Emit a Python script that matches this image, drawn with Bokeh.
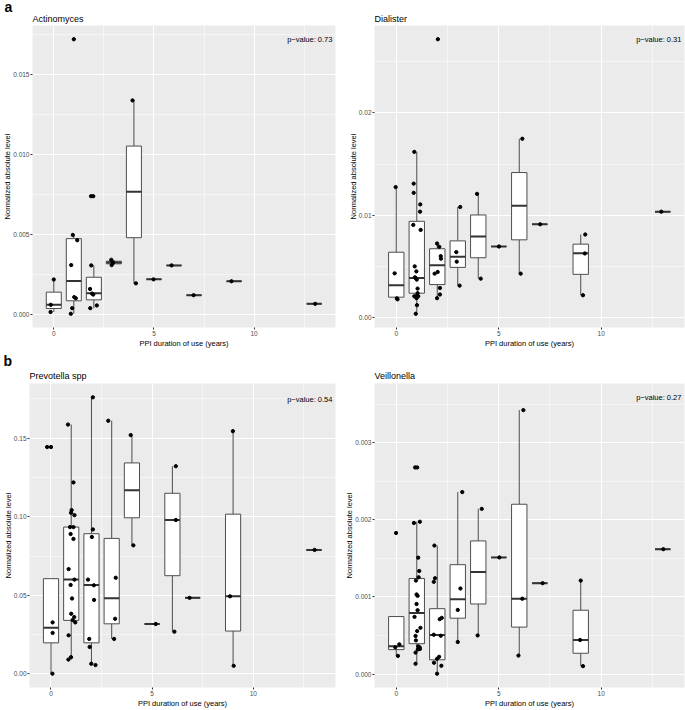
from bokeh.plotting import figure
from bokeh.models import Range1d, FixedTicker, Title
from bokeh.layouts import row, column
from bokeh.embed import file_html
from bokeh.resources import INLINE
from bokeh.core.properties import value

FONT = "Liberation Sans"

# ---------------- data ----------------
groups = [0, 1, 2, 3, 4, 5, 6, 7, 9, 13]
x_ticks = [0, 5, 10]
x_tick_labels = ["0", "5", "10"]
x_minor = [2.5, 7.5, 12.5]

panel_names = ["Actinomyces", "Dialister", "Prevotella spp", "Veillonella"]
panel_tags = ["a", "", "b", ""]
p_values = ["0.73", "0.31", "0.54", "0.27"]
p_value_y = [0.0172, 0.0272, 0.1745, 0.00359]

# Actinomyces
act_q1 = [0.00039, 0.00087, 0.00093, 0.00318, 0.00481, 0.00221, 0.00308, 0.00122, 0.00209, 0.00068]
act_med = [0.00062, 0.0021, 0.00134, 0.00326, 0.00768, 0.00221, 0.00308, 0.00122, 0.00209, 0.00068]
act_q3 = [0.00141, 0.00475, 0.00234, 0.00334, 0.01053, 0.00221, 0.00308, 0.00122, 0.00209, 0.00068]
act_lo = [0.00017, 0.00006, 0.00041, 0.0031, 0.00196, 0.00221, 0.00308, 0.00122, 0.00209, 0.00068]
act_hi = [0.0022, 0.00498, 0.00308, 0.00343, 0.01338, 0.00221, 0.00308, 0.00122, 0.00209, 0.00068]
act_px = [0.0, -0.15, -0.16,
          1.0, 0.95, 1.17, 0.87, 1.02, 1.10, 0.92, 0.85,
          1.86, 1.97, 1.87, 1.81, 1.91, 1.97, 2.15, 1.82,
          2.87, 2.96, 2.89,
          3.93, 4.10,
          4.98, 5.88, 6.98, 8.87, 13.05]
act_py = [0.0022, 0.00062, 0.00017,
          0.0172, 0.00498, 0.00465, 0.0031, 0.0011, 0.00103, 0.00041, 0.00006,
          0.0074, 0.0074, 0.00308, 0.00161, 0.00132, 0.00126, 0.00058, 0.00041,
          0.00343, 0.00326, 0.0031,
          0.01338, 0.00196,
          0.00221, 0.00308, 0.00122, 0.00209, 0.00068]
act_yticks = [0.0, 0.005, 0.01, 0.015]
act_ylabels = ["0.000", "0.005", "0.010", "0.015"]
act_yminor = [0.0025, 0.0075, 0.0125, 0.0175]

# Dialister
dia_q1 = [0.00201, 0.0024, 0.00324, 0.00492, 0.00586, 0.00696, 0.00761, 0.00913, 0.00424, 0.01036]
dia_med = [0.00317, 0.00388, 0.00512, 0.00596, 0.00793, 0.00696, 0.01094, 0.00913, 0.00631, 0.01036]
dia_q3 = [0.0064, 0.00942, 0.00674, 0.00751, 0.01004, 0.00696, 0.01418, 0.00913, 0.00719, 0.01036]
dia_lo = [0.0018, 0.00039, 0.00191, 0.00314, 0.00382, 0.00696, 0.00431, 0.00913, 0.0022, 0.01036]
dia_hi = [0.01276, 0.0162, 0.00725, 0.01082, 0.0121, 0.00696, 0.01748, 0.00913, 0.00813, 0.01036]
dia_px = [-0.03, -0.08, 0.03, 0.06,
          0.88, 0.85, 0.85, 1.17, 1.16, 0.83, 1.19, 0.90, 0.98, 0.91, 0.96, 1.00, 1.04, 1.04,
          0.88, 0.98, 1.07, 0.99, 1.01, 0.95,
          2.03, 1.99, 2.10, 2.17, 2.18, 2.02, 1.87, 2.13, 2.13, 1.99,
          3.12, 2.93, 2.95, 3.09,
          3.94, 4.12,
          5.01,
          6.15, 6.07,
          7.02,
          9.22, 9.20, 9.11,
          12.93]
dia_py = [0.01276, 0.00434, 0.0019, 0.0018,
          0.0162, 0.0131, 0.0122, 0.01107, 0.01036, 0.00907, 0.00858, 0.00502, 0.00453, 0.00395, 0.00385, 0.00373, 0.00285, 0.0024,
          0.0021, 0.0021, 0.0021, 0.00191, 0.00123, 0.00039,
          0.0272, 0.00725, 0.00693, 0.00602, 0.00577, 0.00447, 0.00431, 0.00291, 0.00227, 0.00191,
          0.01082, 0.00641, 0.00548, 0.00314,
          0.0121, 0.00382,
          0.00696,
          0.01748, 0.00431,
          0.00913,
          0.00813, 0.00628, 0.0022,
          0.01036]
dia_yticks = [0.0, 0.01, 0.02]
dia_ylabels = ["0.00", "0.01", "0.02"]
dia_yminor = [0.005, 0.015, 0.025]

# Prevotella spp
pre_q1 = [0.0198, 0.0341, 0.0198, 0.0319, 0.0993, 0.0318, 0.0625, 0.0484, 0.0273, 0.0789]
pre_med = [0.0294, 0.06, 0.0566, 0.0482, 0.1168, 0.0318, 0.0979, 0.0484, 0.0494, 0.0789]
pre_q3 = [0.0606, 0.0934, 0.0892, 0.0862, 0.1342, 0.0318, 0.1149, 0.0484, 0.1016, 0.0789]
pre_lo = [0.0002, 0.0092, 0.006, 0.0223, 0.0818, 0.0318, 0.0269, 0.0484, 0.0052, 0.0789]
pre_hi = [0.0606, 0.1586, 0.1759, 0.161, 0.1519, 0.0318, 0.1321, 0.0484, 0.1544, 0.0789]
pre_px = [-0.19, 0.0, 0.08, 0.08, 0.07,
          0.84, 1.11, 1.02, 0.99, 1.16, 0.94, 1.11, 0.97, 1.11, 0.87, 1.16, 0.97, 1.04, 1.00,
          1.15, 1.07, 1.20, 0.87, 0.99, 0.86,
          2.07, 2.07, 2.02, 1.83, 2.12, 2.13, 1.89, 1.91, 1.99, 2.20,
          2.83, 3.20, 3.17, 3.12,
          3.94, 4.07,
          5.18,
          6.17, 6.17, 6.10,
          6.85,
          8.99, 8.85, 9.03,
          13.03]
pre_py = [0.1443, 0.1443, 0.0328, 0.0261, 0.0002,
          0.1586, 0.1218, 0.1042, 0.1025, 0.101, 0.0934, 0.0934, 0.089, 0.0859, 0.0667, 0.06, 0.0566, 0.048, 0.0383,
          0.0362, 0.0343, 0.0328, 0.0246, 0.0107, 0.0092,
          0.1759, 0.0919, 0.0871, 0.06, 0.0564, 0.0471, 0.0223, 0.0172, 0.0065, 0.0057,
          0.161, 0.0612, 0.0351, 0.0223,
          0.1519, 0.0818,
          0.0318,
          0.1321, 0.0979, 0.0269,
          0.0484,
          0.1544, 0.0494, 0.0052,
          0.0789]
pre_yticks = [0.0, 0.05, 0.10, 0.15]
pre_ylabels = ["0.00", "0.05", "0.10", "0.15"]
pre_yminor = [0.025, 0.075, 0.125, 0.175]

# Veillonella
vei_q1 = [0.000317, 0.000394, 0.000185, 0.000725, 0.000909, 0.001513, 0.000609, 0.001179, 0.00027, 0.00162]
vei_med = [0.00036, 0.000793, 0.000506, 0.000969, 0.001324, 0.001513, 0.000977, 0.001179, 0.000442, 0.00162]
vei_q3 = [0.000746, 0.00124, 0.000848, 0.001419, 0.001727, 0.001513, 0.002203, 0.001179, 0.000828, 0.00162]
vei_lo = [0.000236, 0.000134, 0.000005, 0.000416, 0.000501, 0.001513, 0.00024, 0.001179, 0.000103, 0.00162]
vei_hi = [0.000746, 0.001976, 0.001667, 0.002361, 0.002143, 0.001513, 0.003424, 0.001179, 0.001213, 0.00162]
vei_px = [-0.01, -0.05, 0.15, 0.08,
          0.92, 1.02, 0.86, 1.15, 1.07, 1.12, 1.09, 0.96, 0.99, 1.04, 0.99, 1.04, 0.89, 1.18, 1.02,
          0.94, 0.96, 1.07, 1.14, 1.05, 1.15, 0.94, 0.94,
          1.86, 1.89, 1.83, 2.22, 2.12, 1.83, 2.17, 2.09, 1.99, 1.84, 2.20, 1.99,
          3.22, 3.13, 3.00, 3.00,
          4.17, 3.97,
          5.03,
          6.20, 6.15, 5.96,
          7.14,
          9.00, 8.97, 9.11,
          13.03]
vei_py = [0.00183, 0.000347, 0.000386, 0.000236,
          0.00268, 0.00268, 0.00196, 0.001976, 0.00151, 0.001337, 0.001256, 0.001213, 0.001033, 0.001015, 0.000909,
          0.000828, 0.000742, 0.0006, 0.000558, 0.000494, 0.000437, 0.00036, 0.000347, 0.00032, 0.000325, 0.000279, 0.000134,
          0.001667, 0.001243, 0.001196, 0.000729, 0.000712, 0.00051, 0.000497, 0.000224, 0.000198, 0.000147, 0.000108, 0.000005,
          0.002361, 0.00111, 0.000832, 0.000416,
          0.002143, 0.000501,
          0.001513,
          0.003424, 0.000977, 0.00024,
          0.001179,
          0.001213, 0.000442, 0.000103,
          0.00162]
vei_yticks = [0.0, 0.001, 0.002, 0.003]
vei_ylabels = ["0.000", "0.001", "0.002", "0.003"]
vei_yminor = [0.0005, 0.0015, 0.0025, 0.0035]

BOX_W = 0.75


def make_panel(i, q1, med, q3, lo, hi, px, py, yticks, ylabels, yminor,
               width, height, bl, br, bt, tag_standoff, title_standoff, tag_offset):
    xlo = min(groups) - BOX_W / 2
    xhi = max(groups) + BOX_W / 2
    dx = (xhi - xlo) * 0.05
    ylo_d = min(min(py), min(lo))
    yhi_d = max(max(py), max(hi), p_value_y[i])
    dy = (yhi_d - ylo_d) * 0.05
    p = figure(width=width, height=height,
               x_range=Range1d(xlo - dx, xhi + dx),
               y_range=Range1d(ylo_d - dy, yhi_d + dy),
               output_backend="svg", toolbar_location=None, title=None,
               min_border_left=bl, min_border_right=br,
               min_border_top=bt, min_border_bottom=10)
    p.background_fill_color = "#EBEBEB"
    p.border_fill_color = "white"
    p.outline_line_color = None

    # ticks / grid
    p.xaxis.ticker = FixedTicker(ticks=x_ticks, minor_ticks=x_minor)
    p.yaxis.ticker = FixedTicker(ticks=yticks, minor_ticks=yminor)
    p.xaxis.major_label_overrides = {float(t): l for t, l in zip(x_ticks, x_tick_labels)}
    p.yaxis.major_label_overrides = {float(t): l for t, l in zip(yticks, ylabels)}
    for g in (p.xgrid, p.ygrid):
        g.grid_line_color = "white"
        g.grid_line_width = 1.1
        g.minor_grid_line_color = "white"
        g.minor_grid_line_width = 0.5
    for ax in (p.xaxis, p.yaxis):
        ax.axis_line_color = None
        ax.minor_tick_line_color = None
        ax.minor_tick_in = 0
        ax.minor_tick_out = 0
        ax.major_tick_line_color = "#333333"
        ax.major_tick_in = 0
        ax.major_tick_out = 2
        ax.major_label_standoff = 1
        ax.major_label_text_font = FONT
        ax.major_label_text_font_size = "6.5px"
        ax.major_label_text_color = "#4D4D4D"
        ax.axis_label_text_font = FONT
        ax.axis_label_text_font_size = "7.5px"
        ax.axis_label_text_font_style = "normal"
        ax.axis_label_text_color = "black"
        ax.axis_label_standoff = 0
    p.yaxis.axis_label_standoff = -2
    p.xaxis.axis_label = "PPI duration of use (years)"
    p.yaxis.axis_label = "Normalized absolute level"

    # boxplots
    line_c = "#4D4D4D"
    p.segment(x0=groups, y0=q3, x1=groups, y1=hi, line_color=line_c, line_width=1)
    p.segment(x0=groups, y0=q1, x1=groups, y1=lo, line_color=line_c, line_width=1)
    p.vbar(x=groups, width=BOX_W, bottom=q1, top=q3, fill_color="white",
           line_color=line_c, line_width=1)
    p.segment(x0=[g - BOX_W / 2 for g in groups], y0=med,
              x1=[g + BOX_W / 2 for g in groups], y1=med,
              line_color="#333333", line_width=2)
    # jittered points
    p.scatter(px, py, size=3.3, color="black")

    # p-value annotation
    p.text(x=[xhi + dx], y=[p_value_y[i]], text=["p\u2212value:  " + p_values[i]],
           text_align="right", text_baseline="middle", x_offset=-1,
           text_font=value(FONT), text_font_size="7.5px", text_color="black")

    # titles
    p.add_layout(Title(text=panel_names[i], text_font=FONT, text_font_size="9px",
                       text_font_style="normal", text_color="black",
                       standoff=title_standoff, align="left"), "above")
    tag = panel_tags[i] if panel_tags[i] else " "
    p.add_layout(Title(text=tag, text_font=FONT, text_font_size="14px",
                       text_font_style="bold", text_color="black",
                       standoff=tag_standoff, align="left", offset=tag_offset), "above")
    return p


p1 = make_panel(0, act_q1, act_med, act_q3, act_lo, act_hi, act_px, act_py,
                act_yticks, act_ylabels, act_yminor, 342, 350, 28, 7, 25, -11, 4, -28)
p2 = make_panel(1, dia_q1, dia_med, dia_q3, dia_lo, dia_hi, dia_px, dia_py,
                dia_yticks, dia_ylabels, dia_yminor, 343, 350, 32, 1, 25, -11, 4, 0)
p3 = make_panel(2, pre_q1, pre_med, pre_q3, pre_lo, pre_hi, pre_px, pre_py,
                pre_yticks, pre_ylabels, pre_yminor, 342, 360, 26, 7, 33, -4, 5, -26)
p4 = make_panel(3, vei_q1, vei_med, vei_q3, vei_lo, vei_hi, vei_px, vei_py,
                vei_yticks, vei_ylabels, vei_yminor, 343, 360, 32, 1, 33, -4, 5, 0)

layout = column(row(p1, p2), row(p3, p4))

open("out.html", "w").write(file_html(layout, INLINE))
